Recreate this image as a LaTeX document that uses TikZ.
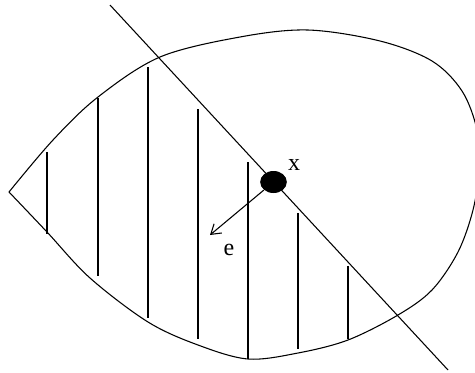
\documentclass[tikz,border=0pt]{standalone}
\usepackage{fontspec}
\setmainfont{Liberation Serif}
\usetikzlibrary{arrows.meta,shapes.geometric}

\begin{document}
\begin{tikzpicture}[
  x=0.75pt, y=-0.75pt,
  line width=0.8pt,
  lbl/.style={font=\fontsize{18}{20}\selectfont, inner sep=0pt},
  dot/.style={ellipse, fill, inner sep=0pt, minimum width=20pt, minimum height=16.5pt},
  arr/.style={-{Straight Barb[length=7pt,width=9pt]}}
]
\useasboundingbox (0,0) rectangle (475,372);
% boundary of the set
\draw plot[smooth, tension=0.55] coordinates {
  (9,192) (53,140) (98,97) (160,57) (240,37) (308,30) (380,41) (432,61)
  (462,91) (477,130) (479,170) (473,210) (458,252) (432,290) (398,315)
  (348,340) (298,353) (248,359) (198,345) (148,322) (90,278) (47,232) (9,192)};
% cutting line
\coordinate (ltop) at (110,5);
\coordinate (lbot) at (448,370);
\draw (ltop) -- (lbot);
% hatching
\foreach \x/\t/\b in {47/152/234, 98/98/276, 148/67/318, 198/109/339,
                      248/162/359, 298/213/349, 348/266/339}
  \draw (\x,\t) -- (\x,\b);
% point and direction
\node[dot] (pt) at (273.5,182) {};
\node[lbl] (xlab) at (294,165) {x};
\coordinate (etip) at (210,235);
\draw[arr] (pt) -- (etip);
\node[lbl] (elab) at (229,250) {e};
\end{tikzpicture}
\end{document}
